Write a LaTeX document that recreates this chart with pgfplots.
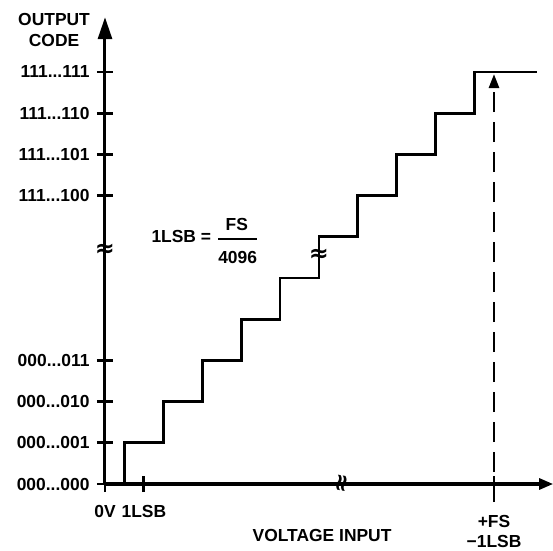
\documentclass[border=0pt]{standalone}
\usepackage{fontspec}
\setmainfont{Liberation Sans}
\newfontfamily\symfont{DejaVu Sans}
\usepackage{pgfplots}
\pgfplotsset{compat=1.18}
\usetikzlibrary{arrows.meta,calc}

% staircase: output code vs input (in LSB)
\pgfplotstableread{
x y
0 0
0.5 1
1.5 2
2.5 3
3.5 4
4.5 5
5.5 6
6.5 7
7.5 8
8.5 9
9.5 10
11.1 10
}\codes

\begin{document}
\begin{tikzpicture}[font=\fontsize{17.5}{21}\selectfont\bfseries]
\begin{axis}[
  x=38.9bp, y=41.2bp,
  xmin=0, xmax=11.52, ymin=0, ymax=11.33,
  axis lines=left,
  x axis line style={line width=3bp, -{Triangle[length=14bp,width=11bp]}},
  y axis line style={line width=3bp, -{Triangle[length=22bp,width=14bp]}},
  tick align=center,
  major tick length=16bp,
  every major tick/.append style={line width=2.8bp, black},
  every tick label/.append style={font=\fontsize{17.5}{21}\selectfont\bfseries},
  xtick={0,1},
  xticklabels={\textbf{0V},\textbf{1LSB}},
  xticklabel style={yshift=-10bp},
  extra x ticks={10},
  extra x tick labels={\textbf{+FS}\\\textbf{−1LSB}},
  extra x tick style={tick label style={align=center, yshift=-10bp,
    font=\fontsize{17.5}{19.5}\selectfont\bfseries}},
  ytick={0,1,2,3,7,8,9,10},
  yticklabels={\textbf{000...000},\textbf{000...001},\textbf{000...010},\textbf{000...011},
               \textbf{111...100},\textbf{111...101},\textbf{111...110},\textbf{111...111}},
  yticklabel style={xshift=-4bp},
  clip=false,
]
\coordinate (O) at (axis cs:0,0);
\addplot[const plot, line width=2.8bp, black] table[x=x, y=y] {\codes};
% dashed full-scale marker
\draw[line width=2.6bp, dash pattern=on 20bp off 10bp, -{Triangle[length=14bp,width=10bp]}]
  (axis cs:10,-0.44) -- (axis cs:10,9.95);
% break marks
\node[font=\fontsize{24}{24}\selectfont\bfseries] at (axis cs:0,5.68) {\symfont ≈};
\node[font=\fontsize{24}{24}\selectfont\bfseries] at (axis cs:5.5,5.55) {\symfont ≈};
\node[font=\fontsize{24}{24}\selectfont\bfseries, rotate=80] at (axis cs:6.12,0) {\symfont ≈};
% LSB definition
\node[anchor=west] at (axis cs:1.105,6.0) {1LSB =};
\node at (axis cs:3.39,6.30) {FS};
\node at (axis cs:3.41,5.50) {4096};
\draw[line width=2.2bp] (axis cs:2.905,5.95) -- (axis cs:3.907,5.95);
% axis titles
\node[align=center] at (axis cs:-1.31,11.02) {OUTPUT\\CODE};
\node at (axis cs:5.58,-1.25) {VOLTAGE INPUT};
\end{axis}
\pgfresetboundingbox
\path[use as bounding box] ($(O)+(-105bp,484bp)$) rectangle ($(O)+(448bp,-67bp)$);
\end{tikzpicture}
\end{document}
